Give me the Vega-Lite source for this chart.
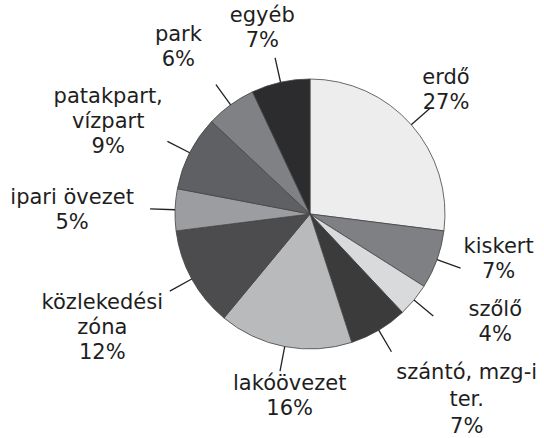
{
  "$schema": "https://vega.github.io/schema/vega-lite/v6.json",
  "width": 468,
  "height": 428,
  "autosize": {"type": "none"},
  "padding": {"left": 76, "top": 0, "right": 0, "bottom": 10},
  "background": "white",
  "config": {"view": {"stroke": null}, "text": {"font": "DejaVu Sans"}},
  "data": {"values": [
    {"cat": "erdő", "share": 27},
    {"cat": "kiskert", "share": 7},
    {"cat": "szőlő", "share": 4},
    {"cat": "szántó, mzg-i\nter.", "share": 7},
    {"cat": "lakóövezet", "share": 16},
    {"cat": "közlekedési\nzóna", "share": 12},
    {"cat": "ipari övezet", "share": 5},
    {"cat": "patakpart,\nvízpart", "share": 9},
    {"cat": "park", "share": 6},
    {"cat": "egyéb", "share": 7}
  ]},
  "transform": [
    {"window": [{"op": "row_number", "as": "i"}, {"op": "sum", "field": "share", "as": "cum"}], "frame": [null, 0]},
    {"calculate": "datum.cum - datum.share / 2", "as": "mid"},
    {"calculate": "datum.cat + '\\n' + datum.share + '%'", "as": "label"}
  ],
  "layer": [
    {
      "mark": {"type": "arc", "radius": 135, "stroke": "#444444", "strokeWidth": 0.8},
      "encoding": {
        "theta": {"field": "share", "type": "quantitative", "stack": true, "scale": {"domain": [0, 100]}},
        "order": {"field": "i", "type": "quantitative"},
        "color": {
          "field": "cat", "type": "nominal", "legend": null,
          "scale": {
            "domain": ["erdő", "kiskert", "szőlő", "szántó, mzg-i\nter.", "lakóövezet", "közlekedési\nzóna", "ipari övezet", "patakpart,\nvízpart", "park", "egyéb"],
            "range": ["#ededed", "#7f8084", "#d9dadc", "#3b3b3b", "#b9babc", "#4c4c4e", "#9c9da0", "#5f6063", "#808184", "#2c2b2d"]
          }
        }
      }
    },
    {
      "mark": {"type": "arc", "radius": 160, "radius2": 135, "stroke": "#222222", "strokeWidth": 1.3, "fillOpacity": 0},
      "encoding": {
        "theta": {"field": "mid", "type": "quantitative", "stack": null, "scale": {"domain": [0, 100]}},
        "theta2": {"field": "mid"}
      }
    },
    {"transform": [{"filter": "datum.i == 1"}], "mark": {"type": "text", "radius": 184, "dx": -2, "dy": -14.5, "fontSize": 21, "lineBreak": "\n", "lineHeight": 25, "align": "center", "baseline": "middle", "fill": "#1e1e1e"}, "encoding": {"theta": {"field": "mid", "type": "quantitative", "stack": null, "scale": {"domain": [0, 100]}}, "text": {"field": "label"}}},
    {"transform": [{"filter": "datum.i == 2"}], "mark": {"type": "text", "radius": 193, "dx": 7, "dy": -32.5, "fontSize": 21, "lineBreak": "\n", "lineHeight": 25, "align": "center", "baseline": "middle", "fill": "#1e1e1e"}, "encoding": {"theta": {"field": "mid", "type": "quantitative", "stack": null, "scale": {"domain": [0, 100]}}, "text": {"field": "label"}}},
    {"transform": [{"filter": "datum.i == 3"}], "mark": {"type": "text", "radius": 208, "dx": 25, "dy": -36.5, "fontSize": 21, "lineBreak": "\n", "lineHeight": 25, "align": "center", "baseline": "middle", "fill": "#1e1e1e"}, "encoding": {"theta": {"field": "mid", "type": "quantitative", "stack": null, "scale": {"domain": [0, 100]}}, "text": {"field": "label"}}},
    {"transform": [{"filter": "datum.i == 4"}], "mark": {"type": "text", "radius": 241, "dx": 34, "dy": -48, "fontSize": 21, "lineBreak": "\n", "lineHeight": 27, "align": "center", "baseline": "middle", "fill": "#1e1e1e"}, "encoding": {"theta": {"field": "mid", "type": "quantitative", "stack": null, "scale": {"domain": [0, 100]}}, "text": {"field": "label"}}},
    {"transform": [{"filter": "datum.i == 5"}], "mark": {"type": "text", "radius": 183, "dx": 14, "dy": -9.5, "fontSize": 21, "lineBreak": "\n", "lineHeight": 25, "align": "center", "baseline": "middle", "fill": "#1e1e1e"}, "encoding": {"theta": {"field": "mid", "type": "quantitative", "stack": null, "scale": {"domain": [0, 100]}}, "text": {"field": "label"}}},
    {"transform": [{"filter": "datum.i == 6"}], "mark": {"type": "text", "radius": 237, "dx": 0, "dy": -25, "fontSize": 21, "lineBreak": "\n", "lineHeight": 25, "align": "center", "baseline": "middle", "fill": "#1e1e1e"}, "encoding": {"theta": {"field": "mid", "type": "quantitative", "stack": null, "scale": {"domain": [0, 100]}}, "text": {"field": "label"}}},
    {"transform": [{"filter": "datum.i == 7"}], "mark": {"type": "text", "radius": 238, "dx": 0, "dy": -8.5, "fontSize": 21, "lineBreak": "\n", "lineHeight": 25, "align": "center", "baseline": "middle", "fill": "#1e1e1e"}, "encoding": {"theta": {"field": "mid", "type": "quantitative", "stack": null, "scale": {"domain": [0, 100]}}, "text": {"field": "label"}}},
    {"transform": [{"filter": "datum.i == 8"}], "mark": {"type": "text", "radius": 222, "dx": -4, "dy": -16, "fontSize": 21, "lineBreak": "\n", "lineHeight": 25, "align": "center", "baseline": "middle", "fill": "#1e1e1e"}, "encoding": {"theta": {"field": "mid", "type": "quantitative", "stack": null, "scale": {"domain": [0, 100]}}, "text": {"field": "label"}}},
    {"transform": [{"filter": "datum.i == 9"}], "mark": {"type": "text", "radius": 212, "dx": -7, "dy": -7.5, "fontSize": 21, "lineBreak": "\n", "lineHeight": 25, "align": "center", "baseline": "middle", "fill": "#1e1e1e"}, "encoding": {"theta": {"field": "mid", "type": "quantitative", "stack": null, "scale": {"domain": [0, 100]}}, "text": {"field": "label"}}},
    {"transform": [{"filter": "datum.i == 10"}], "mark": {"type": "text", "radius": 191, "dx": -6, "dy": -11.5, "fontSize": 21, "lineBreak": "\n", "lineHeight": 25, "align": "center", "baseline": "middle", "fill": "#1e1e1e"}, "encoding": {"theta": {"field": "mid", "type": "quantitative", "stack": null, "scale": {"domain": [0, 100]}}, "text": {"field": "label"}}}
  ]
}
